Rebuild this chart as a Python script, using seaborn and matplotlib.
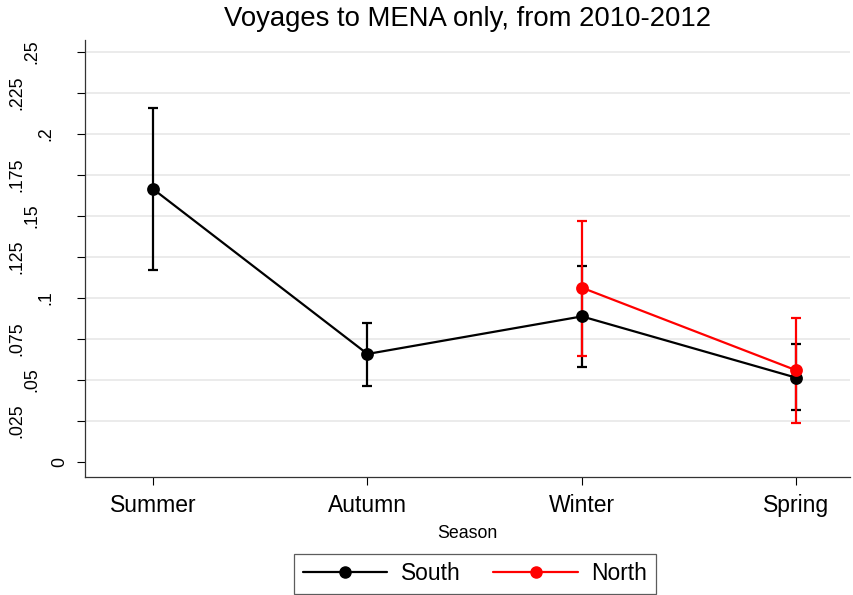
import numpy as np
import pandas as pd
import matplotlib
matplotlib.use("Agg")
import matplotlib.pyplot as plt
import seaborn as sns
from matplotlib.lines import Line2D
import matplotlib.transforms as mtransforms

seasons = ["Summer", "Autumn", "Winter", "Spring"]
south_seasons = ["Summer", "Autumn", "Winter", "Spring"]
south_mean = [0.1665, 0.0659, 0.0888, 0.0514]
south_lo = [0.1169, 0.0465, 0.0581, 0.0315]
south_hi = [0.2157, 0.0846, 0.1195, 0.0721]
north_seasons = ["Winter", "Spring"]
north_mean = [0.1063, 0.0559]
north_lo = [0.0646, 0.0240]
north_hi = [0.1471, 0.0880]
yticks = [0, 0.025, 0.05, 0.075, 0.1, 0.125, 0.15, 0.175, 0.2, 0.225, 0.25]
yticklabels = ["0", ".025", ".05", ".075", ".1", ".125", ".15", ".175", ".2", ".225", ".25"]

sns.set_style("white")
plt.rcParams["font.family"] = ["Liberation Sans", "DejaVu Sans"]
plt.rcParams["text.color"] = "black"
plt.rcParams["axes.labelcolor"] = "black"
plt.rcParams["xtick.color"] = "black"
plt.rcParams["ytick.color"] = "black"

df = pd.concat([
    pd.DataFrame({"Season": south_seasons, "rate": south_mean, "lo": south_lo, "hi": south_hi, "Region": "South"}),
    pd.DataFrame({"Season": north_seasons, "rate": north_mean, "lo": north_lo, "hi": north_hi, "Region": "North"}),
], ignore_index=True)

colors = {"South": "black", "North": "red"}
LW = 1.6
MS = 8

fig = plt.figure(figsize=(8.54, 5.95), dpi=100)
ax = fig.add_axes([85/854, 1 - 477/595, (850-85)/854, (477-40)/595])

for y in yticks[1:]:
    ax.axhline(y, color="#e6e6e6", lw=1.1, zorder=0)

for reg in ["South", "North"]:
    sub = df[df["Region"] == reg]
    pos = [seasons.index(s) for s in sub["Season"]]
    ax.errorbar(pos, sub["rate"], yerr=[sub["rate"] - sub["lo"], sub["hi"] - sub["rate"]],
                fmt="none", ecolor=colors[reg], elinewidth=LW, capsize=3.9, capthick=LW, zorder=3)

sns.pointplot(data=df, x="Season", y="rate", hue="Region", order=seasons,
              hue_order=["South", "North"], palette=colors, errorbar=None,
              markers="o", markersize=MS, linewidth=LW, dodge=False, ax=ax, zorder=4)
if ax.get_legend() is not None:
    ax.get_legend().remove()

ax.set_xlim(-0.317, 3.25)
ax.set_ylim(-0.0091, 0.2573)
ax.set_yticks(yticks)
ax.set_yticklabels([])
# Stata-style rotated y labels (longer labels shifted further left)
trans = mtransforms.blended_transform_factory(fig.transFigure, ax.transData)
for v, lab in zip(yticks, yticklabels):
    xc = 60 - 14.3 * (len(lab) - 1)
    ax.text(xc / 854, v, lab, rotation=90, ha="center", va="center", fontsize=12.8,
            transform=trans, clip_on=False)
ax.set_xticks(range(len(seasons)))
ax.set_xticklabels(seasons, fontsize=16.5)
ax.tick_params(axis="both", direction="out", length=6, width=0.8, color="black",
               bottom=True, left=True, pad=6)
for s in ["top", "right"]:
    ax.spines[s].set_visible(False)
for s in ["left", "bottom"]:
    ax.spines[s].set_color("#333333")
    ax.spines[s].set_linewidth(0.9)
ax.set_xlabel("Season", fontsize=12.8, labelpad=6)
ax.set_ylabel("")
ax.set_title("Voyages to MENA only, from 2010-2012", fontsize=19.8, pad=10)

handles = [Line2D([0], [0], color="black", lw=LW, marker="o", markersize=MS),
           Line2D([0], [0], color="red", lw=LW, marker="o", markersize=MS)]
leg = fig.legend(handles, ["South", "North"], loc="lower center", bbox_to_anchor=(475/854, 0.0),
                 ncol=2, frameon=True, fancybox=False, fontsize=16.4, handlelength=3.7,
                 handletextpad=0.6, columnspacing=1.45, borderpad=0.38, borderaxespad=0.05,
                 edgecolor="#333333")
leg.get_frame().set_linewidth(0.9)

fig.savefig("out.png", dpi=100)
